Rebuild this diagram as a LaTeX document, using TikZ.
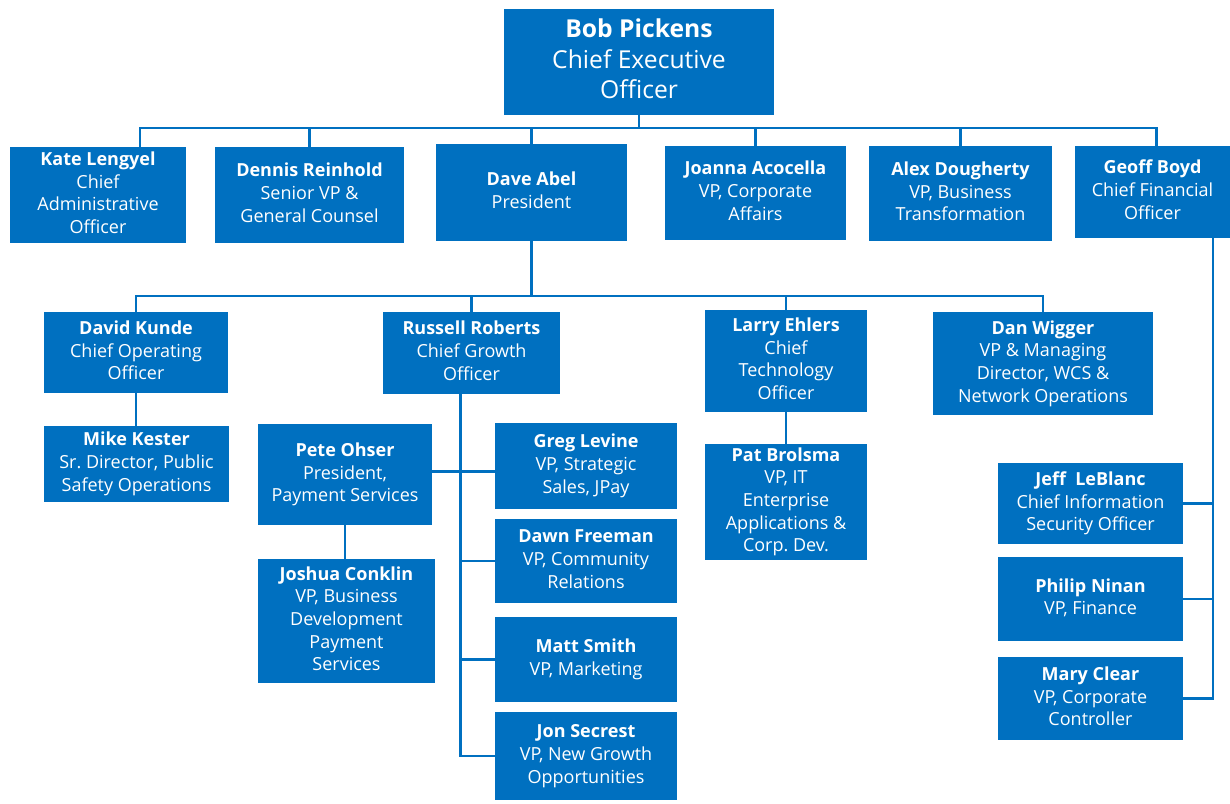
\documentclass[tikz,border=0pt]{standalone}
\usepackage{fontspec}
\setmainfont{Open Sans}
\frenchspacing
\usepackage{tikz}
\usetikzlibrary{calc}
\definecolor{orgblue}{HTML}{0070C0}
\newcommand{\entry}[2]{\begin{tabular}{@{}c@{}}\textbf{#1}\\#2\end{tabular}}
\tikzset{
  box/.style={fill=orgblue, text=white, inner sep=0pt,
    font=\fontsize{13.5}{17}\selectfont},
  topbox/.style={box, font=\fontsize{18.5}{23}\selectfont},
  size/.style 2 args={minimum width=#1*0.75pt, minimum height=#2*0.75pt},
  link/.style={draw=orgblue, line width=2pt}
}
\begin{document}
\begin{tikzpicture}[x=0.75pt,y=-0.75pt]
\useasboundingbox[fill=white] (0,0) rectangle (1230,803);

\node[topbox, size={270}{106}] (ceo) at (639,62) {\entry{Bob Pickens}{Chief Executive\\Officer}};

\node[box, size={176}{96}] (kate) at (98,195) {\entry{Kate Lengyel}{Chief\\Administrative\\Officer}};
\node[box, size={189}{96}] (dennis) at (309.5,195) {\entry{Dennis Reinhold}{Senior VP \&\\General Counsel}};
\node[box, size={191}{97}] (dave) at (531.5,192.5) {\entry{Dave Abel}{President}};
\node[box, size={181}{94}] (joanna) at (755.5,193) {\entry{Joanna Acocella}{VP, Corporate\\Affairs}};
\node[box, size={183}{95}] (alex) at (960.5,193.5) {\entry{Alex Dougherty}{VP, Business\\Transformation}};
\node[box, size={155}{92}] (geoff) at (1152.5,192) {\entry{Geoff Boyd}{Chief Financial\\Officer}};

\node[box, size={184}{81}] (kunde) at (136,352.5) {\entry{David Kunde}{Chief Operating\\Officer}};
\node[box, size={177}{82}] (roberts) at (471.5,353) {\entry{Russell Roberts}{Chief Growth\\Officer}};
\node[box, size={162}{102}] (ehlers) at (786,361) {\entry{Larry Ehlers}{Chief\\Technology\\Officer}};
\node[box, size={220}{103}] (wigger) at (1043,363.5) {\entry{Dan Wigger}{VP \& Managing\\Director, WCS \&\\Network Operations}};

\node[box, size={185}{76}] (kester) at (136.5,464) {\entry{Mike Kester}{Sr. Director, Public\\Safety Operations}};
\node[box, size={174}{101}] (ohser) at (345,474.5) {\entry{Pete Ohser}{President,\\Payment Services}};
\node[box, size={177}{124}] (conklin) at (346.5,621) {\entry{Joshua Conklin}{VP, Business\\Development\\Payment\\Services}};
\node[box, size={182}{86}] (greg) at (586,466) {\entry{Greg Levine}{VP, Strategic\\Sales, JPay}};
\node[box, size={182}{84}] (dawn) at (586,561) {\entry{Dawn Freeman}{VP, Community\\Relations}};
\node[box, size={182}{85}] (matt) at (586,659.5) {\entry{Matt Smith}{VP, Marketing}};
\node[box, size={182}{88}] (secrest) at (586,756) {\entry{Jon Secrest}{VP, New Growth\\Opportunities}};
\node[box, size={162}{116}] (brolsma) at (786,502) {\entry{Pat Brolsma}{VP, IT\\Enterprise\\Applications \&\\Corp. Dev.}};

\node[box, size={185}{81}] (leblanc) at (1090.5,503.5) {\entry{Jeff\ \ LeBlanc}{Chief Information\\Security Officer}};
\node[box, size={185}{84}] (ninan) at (1090.5,599) {\entry{Philip Ninan}{VP, Finance}};
\node[box, size={185}{83}] (clear) at (1090.5,698.5) {\entry{Mary Clear}{VP, Corporate\\Controller}};

\coordinate (bus1) at (0,128);
\coordinate (bus2) at (0,296);
\draw[link] (ceo.south) -- (ceo.south |- bus1);
\draw[link] ($(kate.north)+(42,0)$) |- ($(geoff.north |- bus1)+(4,0)$) -- ($(geoff.north)+(4,0)$);
\foreach \n in {dennis,dave,joanna,alex}
  \draw[link] (\n.north) -- (\n.north |- bus1);

\draw[link] (dave.south) -- (dave.south |- bus2);
\draw[link] (kunde.north) |- (wigger.north |- bus2) -- (wigger.north);
\foreach \n in {roberts,ehlers}
  \draw[link] (\n.north) -- (\n.north |- bus2);

\draw[link] (kunde.south) -- (kunde.south |- kester.north);
\draw[link] (ehlers.south) -- (brolsma.north);
\draw[link] (ohser.south) -- (ohser.south |- conklin.north);

\coordinate (rs) at ($(roberts.south)+(-11,0)$);
\draw[link] (rs) |- (secrest.west);
\draw[link] ($(ohser.east)+(0,-3)$) -- ($(ohser.east -| greg.west)+(0,-3)$);
\foreach \n in {dawn,matt}
  \draw[link] (rs |- \n.west) -- (\n.west);

\coordinate (gs) at ($(geoff.south)+(60.5,0)$);
\draw[link] (gs) |- (clear.east);
\foreach \n in {leblanc,ninan}
  \draw[link] (\n.east) -- (\n.east -| gs);
\end{tikzpicture}
\end{document}
